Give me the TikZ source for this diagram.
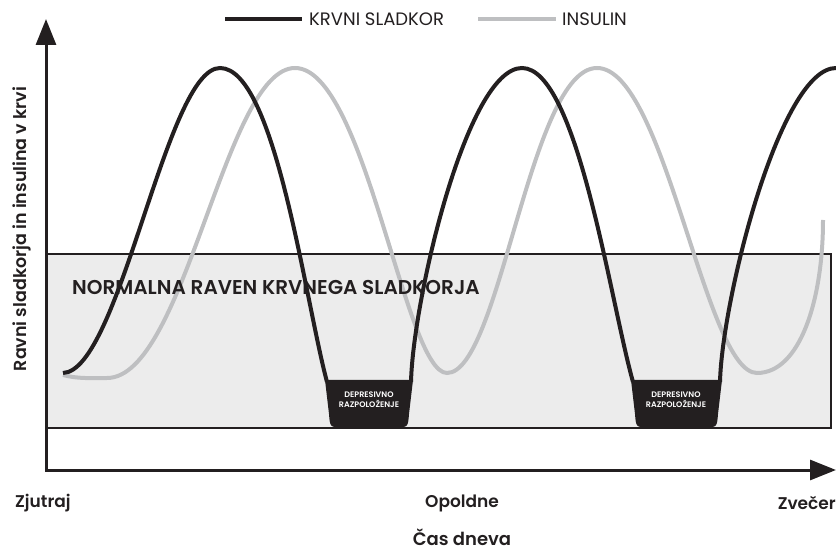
\documentclass[tikz,border=0pt]{standalone}
\usepackage{fontspec}
\setmainfont{Poppins}[BoldFont={Poppins SemiBold}]
\usepackage{tikz}
\usetikzlibrary{arrows.meta,positioning}

\definecolor{ink}{HTML}{231F20}
\definecolor{insgray}{HTML}{BEBFC1}
\definecolor{normfill}{HTML}{ECECEC}

\begin{document}
\begin{tikzpicture}[x=1pt, y=-1pt,
  axis/.style={draw=ink, line width=3pt, line join=miter,
    {Triangle[width=20pt,length=26pt]}-{Triangle[width=20pt,length=26pt]}},
  sugar/.style={draw=ink, line width=4pt},
  insulin/.style={draw=insgray, line width=4pt},
  zone/.style={draw=ink, line width=2pt, fill=normfill},
  dip/.style={fill=ink},
  legend/.style={font=\fontsize{18}{20}\selectfont, text=ink, inner sep=0pt},
  tick/.style={font=\bfseries\fontsize{17}{19}\selectfont, text=ink, inner sep=0pt},
  mood/.style={font=\bfseries\fontsize{8}{10}\selectfont, text=white,
    align=center, inner sep=0pt}
]
  \useasboundingbox (0,0) rectangle (836,553);

  % normal range
  \draw[zone] (46,254) rectangle (831,428);

  % insulin
  \draw[insulin] (63,375) .. controls (78,379) and (92,378) .. (107,378)
    .. controls (185,378) and (225,68) .. (295,68)
    .. controls (365,68) and (405,373) .. (447,373)
    .. controls (500,373) and (530,68) .. (597,68)
    .. controls (665,68) and (705,373) .. (757,373)
    .. controls (800,373) and (823,300) .. (823,220);

  % blood sugar
  \draw[sugar] (63,373) .. controls (120,371) and (166,68) .. (220,68)
    .. controls (275,68) and (305,300) .. (327,382);
  \draw[sugar] (411,382) .. controls (413,300) and (467,68) .. (522,68)
    .. controls (577,68) and (610,300) .. (633,382);
  \draw[sugar] (720,382) .. controls (722,300) and (780,68) .. (836,68);

  % low mood dips
  \fill[dip] (325,380) -- (413,380) -- (409,414) .. controls (408,427) .. (396,428)
    -- (342,428) .. controls (330,427) .. (329,414) -- cycle;
  \node[mood] (dip1) at (369,400) {DEPRESIVNO\\RAZPOLOŽENJE};
  \fill[dip] (631,380) -- (722,380) -- (718,414) .. controls (717,427) .. (705,428)
    -- (648,428) .. controls (636,427) .. (635,414) -- cycle;
  \node[mood] (dip2) at (676,400) {DEPRESIVNO\\RAZPOLOŽENJE};

  \node[anchor=west, text=ink, inner sep=0pt, font=\bfseries\fontsize{20}{22}\selectfont]
    (norm) at (72,287) {NORMALNA RAVEN KRVNEGA SLADKORJA};

  % axes
  \coordinate (o) at (46,470);
  \draw[axis] (46,19) -- (o) -- (836,470);

  \node[rotate=90, tick, font=\bfseries\fontsize{17.5}{19}\selectfont]
    (ylab) at (22,229) {Ravni sladkorja in insulina v krvi};
  \node[tick, anchor=west] (morn) at (15,503) {Zjutraj};
  \node[tick] (noon) at (462,503) {Opoldne};
  \node[tick, anchor=east] (eve) at (836,503) {Zvečer};
  \node[tick, font=\bfseries\fontsize{18}{20}\selectfont] (time) at (462,537) {Čas dneva};

  % legend
  \coordinate (ka) at (225,19);
  \coordinate (kb) at (302,19);
  \draw[sugar] (ka) -- (kb);
  \node[legend, right=7pt of kb] (klab) {KRVNI SLADKOR};
  \coordinate (ia) at (478,19);
  \coordinate (ib) at (556,19);
  \draw[insulin] (ia) -- (ib);
  \node[legend, right=6pt of ib] (ilab) {INSULIN};
\end{tikzpicture}
\end{document}
